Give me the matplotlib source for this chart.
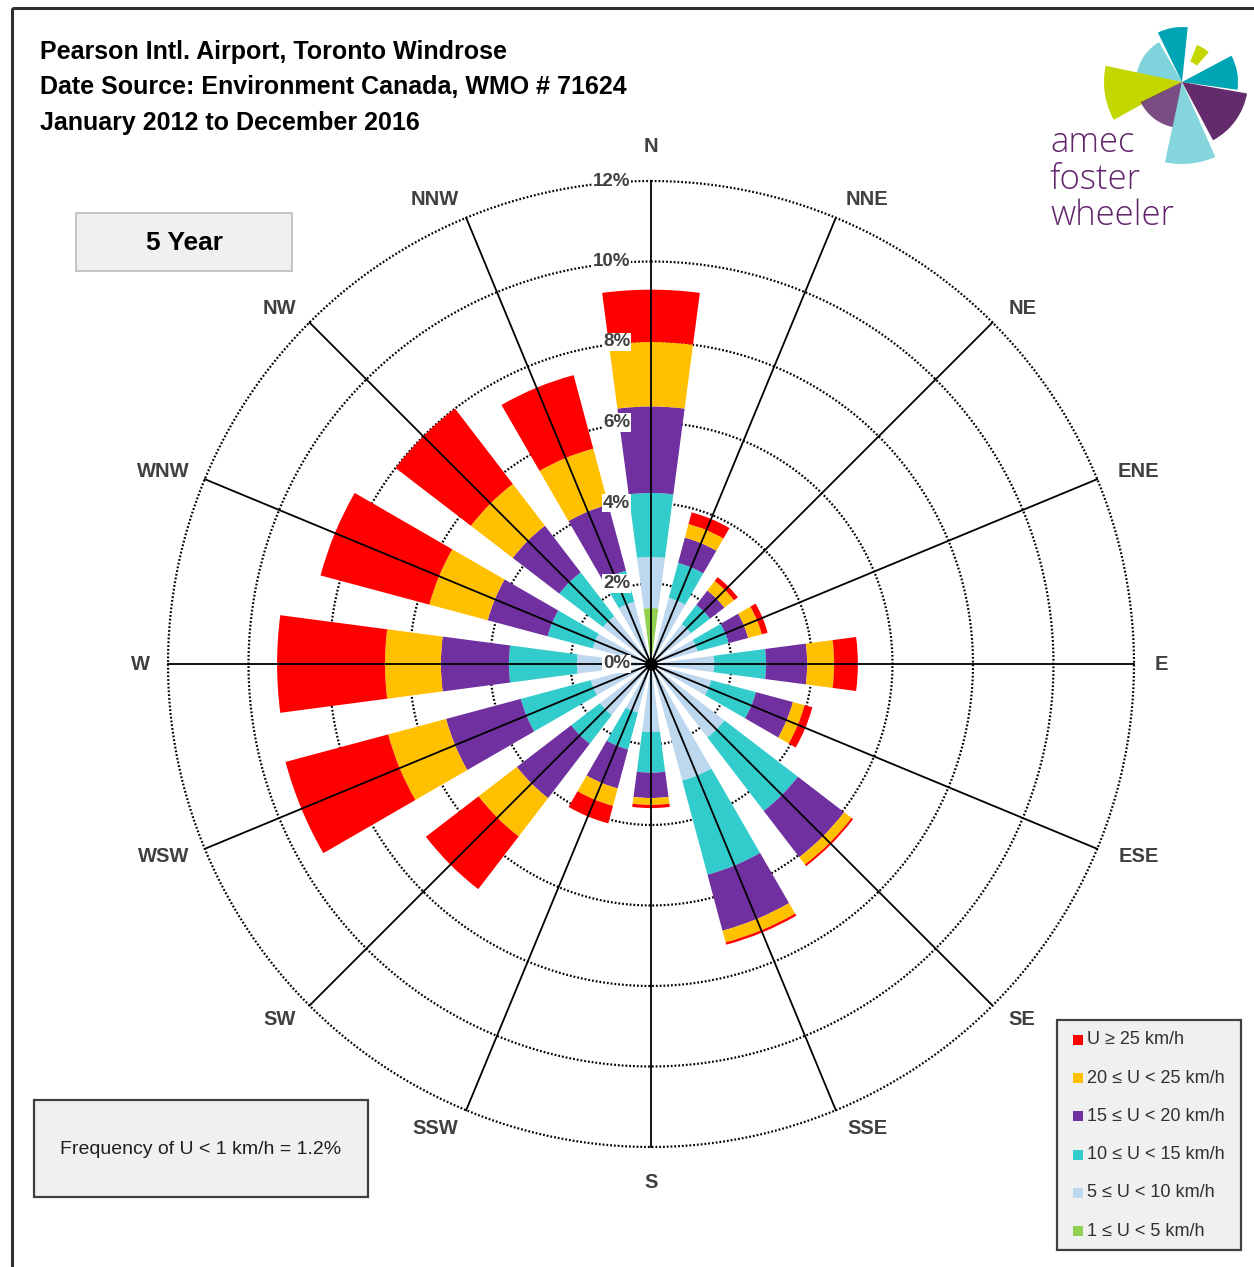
import numpy as np
import matplotlib.pyplot as plt
from matplotlib.patches import Rectangle, Wedge

# Wind directions (compass, clockwise from N)
directions = ['N', 'NNE', 'NE', 'ENE', 'E', 'ESE', 'SE', 'SSE',
              'S', 'SSW', 'SW', 'WSW', 'W', 'WNW', 'NW', 'NNW']

# Frequency (%) of each speed class per direction
u_1_5 = [1.39, 0.15, 0.15, 0.15, 0.15, 0.15, 0.15, 0.15,
         0.15, 0.15, 0.15, 0.15, 0.15, 0.15, 0.15, 0.15]
u_5_10 = [1.27, 1.55, 1.10, 1.05, 1.42, 1.40, 2.15, 2.85,
          1.54, 1.10, 1.45, 1.40, 1.69, 1.35, 1.35, 1.45]
u_10_15 = [1.59, 0.90, 0.60, 0.80, 1.29, 1.15, 2.30, 2.42,
           1.01, 0.95, 0.90, 1.80, 1.69, 1.16, 1.37, 0.80]
u_15_20 = [2.15, 0.65, 0.45, 0.50, 1.02, 0.95, 1.45, 1.44,
           0.63, 1.00, 1.70, 1.92, 1.69, 1.54, 1.46, 1.70]
u_20_25 = [1.60, 0.35, 0.30, 0.35, 0.67, 0.30, 0.23, 0.30,
           0.17, 0.45, 1.20, 1.49, 1.39, 1.50, 1.31, 1.44]
u_25 = [1.30, 0.30, 0.12, 0.15, 0.59, 0.20, 0.05, 0.06,
        0.08, 0.45, 1.65, 2.64, 2.68, 2.80, 2.36, 1.89]

speed_bins = [u_1_5, u_5_10, u_10_15, u_15_20, u_20_25, u_25]
bin_colors = ['#92D050', '#BDD7EE', '#33CCCC', '#7030A0', '#FFC000', '#FF0000']
bin_labels = ['1 \u2264 U < 5 km/h', '5 \u2264 U < 10 km/h', '10 \u2264 U < 15 km/h',
              '15 \u2264 U < 20 km/h', '20 \u2264 U < 25 km/h', 'U \u2265 25 km/h']

ring_ticks = [0, 2, 4, 6, 8, 10, 12]
calm_text = 'Frequency of U < 1 km/h = 1.2%'

# logo pieces: (compass start, compass end, inner r, outer r, colour, alpha)
logo_pieces = [
    (280, 330, 0, 46, '#7FD3DC', 1.0),
    (-26, 6, 0, 55, '#00A5B5', 1.0),
    (22, 42, 22, 40, '#C4D600', 1.0),
    (62, 98, 0, 56, '#00A5B5', 1.0),
    (241, 282, 0, 78, '#C4D600', 1.0),
    (100, 152, 0, 66, '#5B1F63', 0.95),
    (190, 244, 0, 46, '#6D3A78', 0.9),
    (156, 192, 0, 82, '#7FD3DC', 0.95),
]

W, H = 1254, 1267
plt.rcParams['font.family'] = ['Liberation Sans', 'DejaVu Sans']

fig = plt.figure(figsize=(W / 100, H / 100), dpi=100)

# background/annotation layer in pixel coordinates
bg = fig.add_axes([0, 0, 1, 1])
bg.set_xlim(0, W)
bg.set_ylim(H, 0)
bg.set_axis_off()

bg.add_patch(Rectangle((12, 8), W + 20, H + 20, fill=False, ec='#303030', lw=2.2))

title = ['Pearson Intl. Airport, Toronto Windrose',
         'Date Source: Environment Canada, WMO # 71624',
         'January 2012 to December 2016']
for i, line in enumerate(title):
    bg.text(40, 52 + i * 35.5, line, fontsize=18, fontweight='bold',
            va='center', ha='left', color='black')

# 5 Year box
bg.add_patch(Rectangle((76, 213), 216, 58, fc='#F0F0F0', ec='#BFBFBF', lw=1.3))
bg.text(184, 243, '5 Year', fontsize=19, fontweight='bold', ha='center', va='center')

# calm frequency box
bg.add_patch(Rectangle((34, 1100), 334, 97, fc='#F0F0F0', ec='#404040', lw=1.6))
bg.text(201, 1150, calm_text, fontsize=14, ha='center', va='center', color='#202020')

# legend
bg.add_patch(Rectangle((1057, 1020), 184, 230, fc='#F0F0F0', ec='#404040', lw=1.6))
for i, (lab, col) in enumerate(zip(bin_labels[::-1], bin_colors[::-1])):
    y = 1040 + i * 38.2
    bg.add_patch(Rectangle((1073, y - 5), 10, 10, fc=col, ec='none'))
    bg.text(1087, y, lab, fontsize=13, ha='left', va='center', color='#303030')

# logo
lcx, lcy = 1182, 82
for c1, c2, r0, r1, col, a in logo_pieces:
    bg.add_patch(Wedge((lcx, lcy), r1, c1 - 90, c2 - 90, width=r1 - r0,
                       fc=col, ec='none', alpha=a))
for i, word in enumerate(['amec', 'foster', 'wheeler']):
    bg.text(1050, 143 + i * 36.5, word, fontsize=25, color='#62256C',
            family=['Open Sans', 'DejaVu Sans'], fontweight='light',
            ha='left', va='center')

# wind rose
cx, cy, R = 651, 664, 483
ax = fig.add_axes([(cx - R) / W, (H - cy - R) / H, 2 * R / W, 2 * R / H],
                  projection='polar')
ax.set_theta_zero_location('N')
ax.set_theta_direction(-1)
ax.set_ylim(0, 12)
ax.set_facecolor('none')
ax.set_axis_off()

theta = np.deg2rad(np.arange(16) * 22.5)
full = np.linspace(0, 2 * np.pi, 721)
for r in ring_ticks[1:]:
    ax.plot(full, np.full_like(full, r), color='black', lw=1.6,
            linestyle=(0, (0.8, 0.9)), zorder=1, clip_on=False)

bottom = np.zeros(16)
for vals, col in zip(speed_bins, bin_colors):
    vals = np.array(vals)
    ax.bar(theta, vals, width=np.deg2rad(15), bottom=bottom, color=col,
           edgecolor='none', zorder=2)
    bottom += vals

for th in theta:
    ax.plot([th, th], [0, 12], color='black', lw=1.3, zorder=3, clip_on=False)
ax.plot([0], [0], 'o', color='black', ms=8, zorder=4)

# direction labels sit just outside the outer ring, nudged sideways by half their width
for th, name in zip(theta, directions):
    s, c = np.sin(th), np.cos(th)
    if abs(s) < 1e-6:
        s = 0.0
    if abs(c) < 1e-6:
        c = 0.0
    hw = 7.5 * len(name)
    dx = s * 18 + np.sign(s) * (hw + 2)
    dy = c * 20 + (15 * np.sign(c) if s == 0 else 0)
    ax.annotate(name, xy=(th, 12), xytext=(dx * 0.72, dy * 0.72),
                textcoords='offset points', ha='center', va='center',
                fontsize=14.5, fontweight='bold', color='#404040')

for r in ring_ticks:
    ax.annotate(f'{r}%', xy=(0, r), xytext=(-15, 0), textcoords='offset points',
                ha='right', va='center', fontsize=13.5, fontweight='bold',
                color='#404040', zorder=5,
                bbox=dict(fc='white', ec='none', pad=0.5))

fig.savefig('out.png', dpi=100)
